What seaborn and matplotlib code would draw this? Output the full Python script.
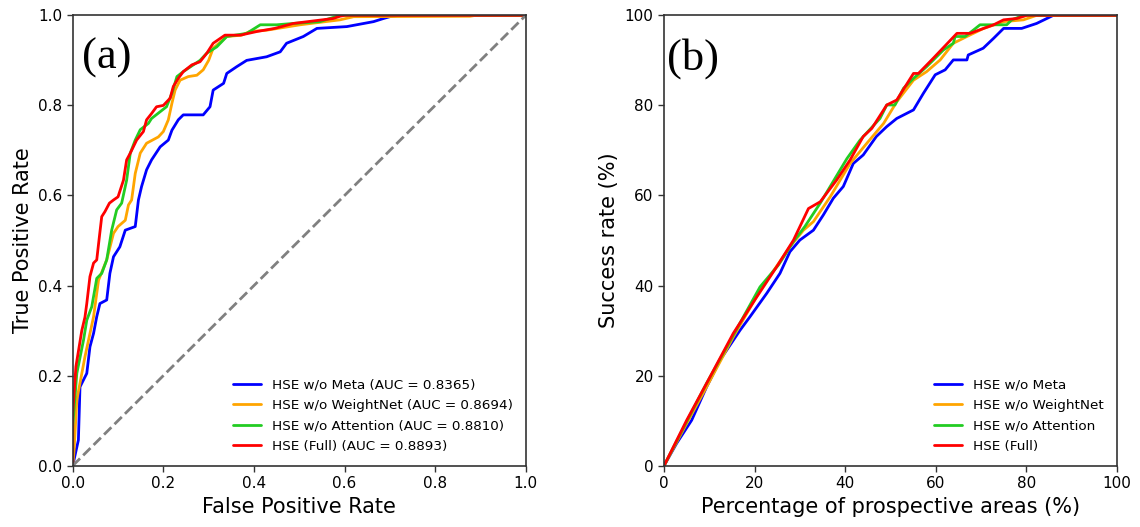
import numpy as np
import pandas as pd
import seaborn as sns
import matplotlib
matplotlib.use("Agg")
import matplotlib.pyplot as plt

# ---------------- data ----------------
models = ["HSE w/o Meta", "HSE w/o WeightNet", "HSE w/o Attention", "HSE (Full)"]
aucs = ["0.8365", "0.8694", "0.8810", "0.8893"]
colors = ["blue", "orange", "#22cc22", "red"]

fpr_meta = [0, 0.0125, 0.016, 0.031, 0.038, 0.046, 0.053, 0.06, 0.075, 0.082, 0.09, 0.104, 0.116,
            0.138, 0.145, 0.152, 0.163, 0.174, 0.193, 0.211, 0.219, 0.233, 0.244, 0.288, 0.303, 0.31,
            0.333, 0.34, 0.362, 0.384, 0.428, 0.458, 0.472, 0.509, 0.539, 0.605, 0.664, 0.686, 0.70,
            0.72, 1.0]
tpr_meta = [0, 0.057, 0.175, 0.205, 0.264, 0.294, 0.331, 0.36, 0.368, 0.427, 0.464, 0.486, 0.523,
            0.531, 0.59, 0.62, 0.657, 0.679, 0.708, 0.723, 0.745, 0.768, 0.779, 0.779, 0.797, 0.834,
            0.849, 0.871, 0.886, 0.90, 0.908, 0.919, 0.938, 0.953, 0.971, 0.975, 0.986, 0.993, 0.997,
            1.0, 1.0]

fpr_wn = [0, 0.003, 0.009, 0.027, 0.046, 0.057, 0.075, 0.09, 0.1, 0.116, 0.123, 0.13, 0.138, 0.149,
          0.163, 0.189, 0.2, 0.211, 0.219, 0.226, 0.237, 0.255, 0.274, 0.288, 0.3, 0.31, 0.34, 0.373,
          0.391, 0.428, 0.502, 0.59, 0.62, 0.877, 0.89, 1.0]
tpr_wn = [0, 0.035, 0.146, 0.242, 0.331, 0.412, 0.457, 0.516, 0.531, 0.545, 0.579, 0.59, 0.649, 0.694,
          0.716, 0.73, 0.742, 0.768, 0.805, 0.834, 0.856, 0.864, 0.867, 0.879, 0.90, 0.927, 0.953, 0.956,
          0.964, 0.967, 0.979, 0.99, 0.997, 0.998, 1.0, 1.0]

fpr_att = [0, 0.0, 0.009, 0.024, 0.031, 0.042, 0.053, 0.064, 0.075, 0.086, 0.097, 0.108, 0.119, 0.127,
           0.138, 0.149, 0.167, 0.174, 0.193, 0.207, 0.219, 0.23, 0.244, 0.281, 0.296, 0.318, 0.34,
           0.384, 0.414, 0.45, 0.487, 0.546, 0.583, 0.59, 1.0]
tpr_att = [0, 0.087, 0.205, 0.28, 0.323, 0.353, 0.416, 0.427, 0.457, 0.523, 0.568, 0.583, 0.634, 0.694,
           0.723, 0.746, 0.76, 0.771, 0.786, 0.797, 0.827, 0.864, 0.875, 0.90, 0.916, 0.93, 0.953,
           0.96, 0.979, 0.979, 0.982, 0.986, 0.998, 1.0, 1.0]

fpr_full = [0, 0.0, 0.007, 0.02, 0.027, 0.031, 0.038, 0.046, 0.053, 0.059, 0.064, 0.071, 0.081, 0.09,
            0.10, 0.112, 0.119, 0.127, 0.141, 0.156, 0.163, 0.174, 0.185, 0.2, 0.215, 0.222, 0.233,
            0.244, 0.263, 0.281, 0.296, 0.31, 0.336, 0.37, 0.406, 0.446, 0.487, 0.575, 0.59, 0.6, 1.0]
tpr_full = [0, 0.116, 0.22, 0.30, 0.33, 0.36, 0.42, 0.45, 0.457, 0.51, 0.553, 0.564, 0.583, 0.59,
            0.597, 0.634, 0.679, 0.694, 0.723, 0.742, 0.768, 0.782, 0.797, 0.80, 0.816, 0.842, 0.86,
            0.875, 0.89, 0.897, 0.916, 0.938, 0.956, 0.956, 0.964, 0.971, 0.982, 0.993, 0.998, 1.0, 1.0]

area_meta = [0, 2.8, 6.1, 9.4, 12.4, 16.8, 19, 22.7, 25.6, 27.8, 30, 33, 35.2, 37.4, 39.6, 41.8, 44,
             46.9, 49.2, 51.4, 55.1, 57.3, 59.9, 62.1, 63.9, 66.9, 67.2, 70.5, 72.8, 75, 79, 82.3, 86, 100]
succ_meta = [0, 5, 10.1, 17.5, 23.5, 30.1, 33.1, 38.3, 42.7, 47.5, 50.1, 52.3, 55.7, 59.4, 62, 67.1, 69,
             73.1, 75.3, 77.1, 79, 82.7, 86.8, 87.9, 90.1, 90.1, 91.2, 92.7, 94.9, 97.1, 97.1, 98.2, 100, 100]

area_wn = [0, 5, 9.4, 15.3, 21.2, 27.8, 30.8, 33, 36.7, 41.1, 44.8, 48.5, 51.4, 55.1, 58, 61, 63.9,
           66.9, 70.6, 75, 79.4, 82.3, 100]
succ_wn = [0, 9.4, 17.5, 28.6, 38.9, 48.6, 52.3, 54.2, 59.7, 67.1, 71.6, 76, 80.8, 85.6, 87.5, 90.1, 93.8,
           95.3, 97.1, 98.6, 99, 100, 100]

area_att = [0, 5, 9.4, 15.3, 21.2, 25.3, 28.6, 31.1, 34.5, 40.4, 43.3, 47.7, 49.2, 51, 52.9, 55.1, 58,
            61.7, 63.9, 64.3, 66.5, 68.3, 69.8, 75.7, 76.8, 78.6, 80.1, 100]
succ_att = [0, 9.8, 18.3, 29, 39.7, 44.6, 49.8, 53.1, 58.3, 68.2, 72.3, 77.1, 80.1, 80.1, 83.8, 86, 88.6,
            92.3, 93.8, 95.3, 95.3, 96.7, 97.9, 97.9, 99, 99.7, 100, 100]

area_full = [0, 5, 9.4, 15.3, 20.5, 24.9, 28.6, 31.9, 34.5, 38.1, 41.1, 44, 45.9, 49.2, 51.4, 55.1, 56.2,
             59.5, 64.7, 67.6, 70.6, 72.8, 75, 77.9, 80.1, 100]
succ_full = [0, 10.1, 18.3, 29.4, 37.5, 44.2, 50.1, 57.1, 58.6, 63.4, 67.9, 73.1, 74.9, 80.1, 81.2, 87.1,
             87.1, 90.5, 96, 96, 97.1, 97.9, 99, 99.3, 100, 100]

roc_x = [fpr_meta, fpr_wn, fpr_att, fpr_full]
roc_y = [tpr_meta, tpr_wn, tpr_att, tpr_full]
sr_x = [area_meta, area_wn, area_att, area_full]
sr_y = [succ_meta, succ_wn, succ_att, succ_full]

# ---------------- plot ----------------
sns.set_style("ticks")
plt.rcParams["font.family"] = ["DejaVu Sans"]
plt.rcParams["text.color"] = "black"
plt.rcParams["axes.labelcolor"] = "black"
plt.rcParams["xtick.color"] = "black"
plt.rcParams["ytick.color"] = "black"

fig = plt.figure(figsize=(11.4, 5.27), dpi=100)
ax1 = fig.add_axes([0.0638, 0.1163, 0.3974, 0.8546])
ax2 = fig.add_axes([0.5825, 0.1163, 0.3971, 0.8546])

for m, a, c, xs, ys in zip(models, aucs, colors, roc_x, roc_y):
    df = pd.DataFrame({"x": xs, "y": ys})
    sns.lineplot(data=df, x="x", y="y", ax=ax1, color=c, linewidth=2,
                 label=f"{m} (AUC = {a})", sort=False, estimator=None)
diag = pd.DataFrame({"x": [0, 1], "y": [0, 1]})
sns.lineplot(data=diag, x="x", y="y", ax=ax1, color="gray", linestyle="--",
             linewidth=2, estimator=None)

for m, c, xs, ys in zip(models, colors, sr_x, sr_y):
    df = pd.DataFrame({"x": xs, "y": ys})
    sns.lineplot(data=df, x="x", y="y", ax=ax2, color=c, linewidth=2,
                 label=m, sort=False, estimator=None)

ax1.set_xlim(0, 1)
ax1.set_ylim(0, 1)
ax1.set_xticks([0, 0.2, 0.4, 0.6, 0.8, 1.0])
ax1.set_yticks([0, 0.2, 0.4, 0.6, 0.8, 1.0])
ax1.set_xlabel("False Positive Rate", fontsize=15)
ax1.set_ylabel("True Positive Rate", fontsize=15)

ax2.set_xlim(0, 100)
ax2.set_ylim(0, 100)
ax2.set_xticks([0, 20, 40, 60, 80, 100])
ax2.set_yticks([0, 20, 40, 60, 80, 100])
ax2.set_xlabel("Percentage of prospective areas (%)", fontsize=15)
ax2.set_ylabel("Success rate (%)", fontsize=15)

for ax, lab, xo in [(ax1, "(a)", 0.02), (ax2, "(b)", 0.007)]:
    ax.tick_params(labelsize=11, width=1, length=4, color="#333333")
    for s in ax.spines.values():
        s.set_color("#333333")
        s.set_linewidth(1.2)
    ax.legend(loc="lower right", frameon=False, fontsize=9.7, handlelength=2.1,
              borderaxespad=0.55, labelspacing=0.55)
    ax.text(xo, 0.905, lab, transform=ax.transAxes, va="center", ha="left",
            fontsize=32, family=["Liberation Serif", "DejaVu Serif"])

fig.savefig("out.png", dpi=100)
